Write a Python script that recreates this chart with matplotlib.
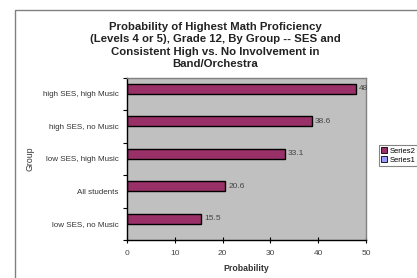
import matplotlib
matplotlib.use("Agg")
import matplotlib.pyplot as plt
from matplotlib.patches import Rectangle, Patch
import numpy as np

categories = ["high SES, high Music", "high SES, no Music", "low SES, high Music",
              "All students", "low SES, no Music"]
series2 = [48, 38.6, 33.1, 20.6, 15.5]
value_labels = ["48", "38.6", "33.1", "20.6", "15.5"]
xticks = [0, 10, 20, 30, 40, 50]

plt.rcParams['font.family'] = ['Liberation Sans', 'DejaVu Sans']

fig = plt.figure(figsize=(4.17, 2.78), dpi=100)
fig.patch.set_facecolor('white')
# outer chart frame
fig.patches.append(Rectangle((15/417, -0.05), 1.2, 1 - 10/278 + 0.05, transform=fig.transFigure,
                             fill=False, edgecolor='#808080', linewidth=1.0))

ax = fig.add_axes([127/417, 1 - 240/278, (366 - 127)/417, (240 - 77.5)/278])
ax.set_facecolor('#c0c0c0')

n = len(categories)
pos = np.arange(n)[::-1]  # top category highest
bh = 0.31
ax.barh(pos + bh/2, series2, height=bh, color='#993068', edgecolor='black', linewidth=1.0)

for p, v, lab in zip(pos, series2, value_labels):
    ax.text(v + 0.6, p + bh/2, lab, va='center', ha='left', fontsize=6, color='#444444')

ax.set_xlim(0, 50)
ax.set_ylim(-0.5, n - 0.5)
ax.set_xticks(xticks)
ax.set_xticklabels([str(t) for t in xticks], fontsize=6, color='#444444')
ax.set_yticks(pos)
ax.set_yticklabels(categories, fontsize=5.8, color='#333333')
ax.set_yticks(np.arange(-0.5, n, 1.0), minor=True)
ax.tick_params(axis='y', which='major', length=0, pad=6)
ax.tick_params(axis='y', which='minor', length=3, direction='out', width=0.8)
ax.tick_params(axis='x', which='major', length=4, direction='inout', width=0.8, pad=5)

for s in ['left', 'bottom']:
    ax.spines[s].set_color('black')
    ax.spines[s].set_linewidth(1.0)
for s in ['top', 'right']:
    ax.spines[s].set_color('#808080')
    ax.spines[s].set_linewidth(1.0)

ax.set_xlabel("Probability", fontsize=6.3, fontweight='bold', color='#333333', labelpad=5)
ax.set_ylabel("Group", fontsize=6.3, color='#333333', labelpad=6)

fig.text(215/417, 1 - 45.5/278,
         "Probability of Highest Math Proficiency\n(Levels 4 or 5), Grade 12, By Group -- SES and\nConsistent High vs. No Involvement in\nBand/Orchestra",
         ha='center', va='center', fontsize=8.2, fontweight='bold', color='#222222',
         linespacing=1.33)

handles = [Patch(facecolor='#993068', edgecolor='black', linewidth=0.6),
           Patch(facecolor='#9999ff', edgecolor='black', linewidth=0.6)]
leg = fig.legend(handles, ["Series2", "Series1"], loc='upper left',
                 bbox_to_anchor=(379/417, 1 - 145/278), fontsize=5.5, frameon=True,
                 fancybox=False, handlelength=0.7, handleheight=0.7, handletextpad=0.4,
                 borderpad=0.3, labelspacing=0.2, borderaxespad=0)
leg.get_frame().set_edgecolor('#666666')
leg.get_frame().set_linewidth(0.8)

fig.savefig("out.png", dpi=100)
